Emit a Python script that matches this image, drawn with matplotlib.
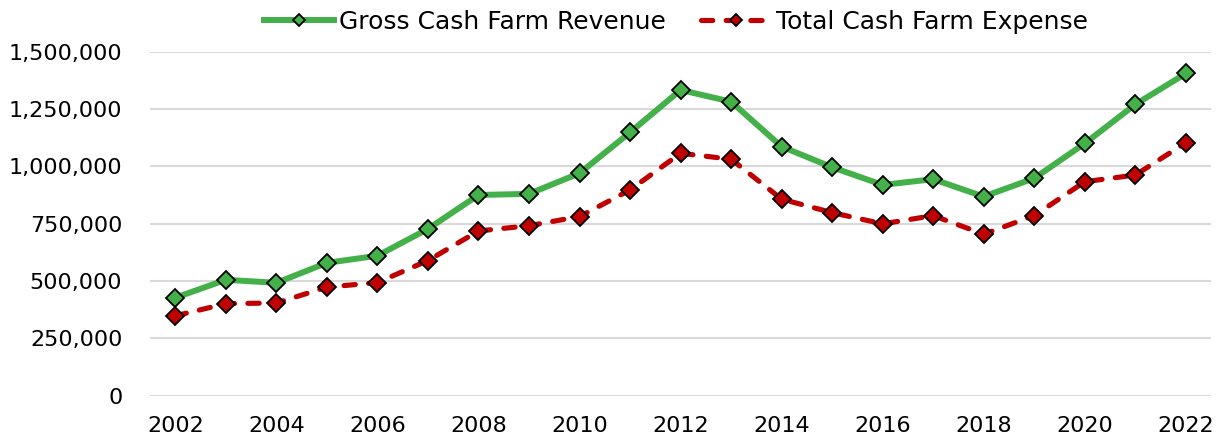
import matplotlib
matplotlib.use("Agg")
import matplotlib.pyplot as plt
from matplotlib.ticker import FuncFormatter

years = list(range(2002, 2023))
revenue = [427000, 505000, 492000, 579000, 610000, 727000, 875000, 880000, 970000,
           1148000, 1333000, 1282000, 1086000, 996000, 919000, 944000, 868000,
           948000, 1100000, 1270000, 1405000]
expense = [348000, 401000, 404000, 473000, 493000, 589000, 718000, 741000, 781000,
           897000, 1057000, 1031000, 857000, 798000, 749000, 785000, 704000,
           785000, 933000, 962000, 1103000]

plt.rcParams['font.family'] = ['DejaVu Sans']

fig = plt.figure(figsize=(12.2, 4.42), dpi=100)
ax = fig.add_axes([0.123, 0.105, 0.8697, 0.778])

ax.plot(years, revenue, color='#43B049', linewidth=4.3, marker='D', markersize=9,
        markerfacecolor='#43B049', markeredgecolor='black', markeredgewidth=1.3,
        label='Gross Cash Farm Revenue', zorder=3)
ax.plot(years, expense, color='#C00000', linewidth=3.7, linestyle=(0, (2.2, 2.6)),
        dash_capstyle='round', marker='D', markersize=9, markerfacecolor='#C00000',
        markeredgecolor='black', markeredgewidth=1.3,
        label='Total Cash Farm Expense', zorder=3)

ax.set_ylim(0, 1500000)
ax.set_xlim(2001.5, 2022.5)
ax.set_yticks(range(0, 1500001, 250000))
ax.set_xticks(range(2002, 2023, 2))
ax.yaxis.set_major_formatter(FuncFormatter(lambda v, p: f'{int(v):,}'))

ax.grid(axis='y', color='#D9D9D9', linewidth=1.5)
ax.set_axisbelow(True)
for s in ax.spines.values():
    s.set_visible(False)
ax.tick_params(length=0, labelsize=16, colors='black')
ax.tick_params(axis='y', pad=20)
ax.tick_params(axis='x', pad=15)

leg = fig.legend(loc='center', bbox_to_anchor=(0.554, 0.95), ncol=2, frameon=False,
                 fontsize=18, handlelength=2.8, columnspacing=1.4, handletextpad=0.2)
for h in leg.legend_handles:
    h.set_markersize(6.5)

fig.savefig('out.png', dpi=100)
